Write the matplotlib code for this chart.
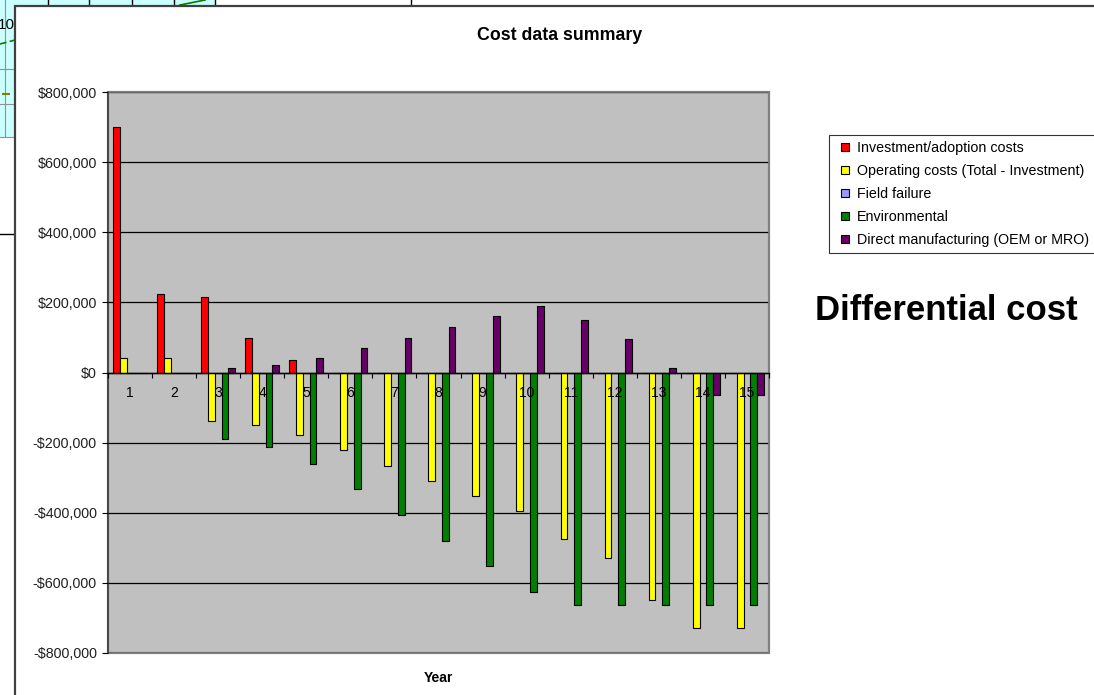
import matplotlib
matplotlib.use("Agg")
import matplotlib.pyplot as plt
from matplotlib.patches import Rectangle
from matplotlib.lines import Line2D
from matplotlib.ticker import FuncFormatter, FixedLocator, NullFormatter

plt.rcParams['font.family'] = ['Liberation Sans', 'DejaVu Sans']

# ---------------- data ----------------
years = [str(i) for i in range(1, 16)]
series_names = ["Investment/adoption costs",
                "Operating costs (Total - Investment)",
                "Field failure",
                "Environmental",
                "Direct manufacturing (OEM or MRO)"]
investment = [700000, 225000, 215000, 97000, 37000, 0, 0, 0, 0, 0, 0, 0, 0, 0, 0]
operating = [40000, 40000, -137000, -150000, -178000, -222000, -267000, -309000,
             -352000, -394000, -476000, -530000, -650000, -729000, -729000]
field_failure = [0, 0, 0, 0, 0, 0, 0, 0, 0, 0, 0, 0, 0, 0, 0]
environmental = [0, 0, -189000, -213000, -261000, -333000, -407000, -480000,
                 -552000, -625000, -663000, -663000, -663000, -663000, -663000]
direct_mfg = [0, 0, 12000, 21000, 40000, 71000, 99000, 131000, 162000, 190000,
              150000, 96000, 14000, -65000, -65000]
y_ticks = [-800000, -600000, -400000, -200000, 0, 200000, 400000, 600000, 800000]

colors = ["#FF0000", "#FFFF00", "#9999FF", "#008000", "#660066"]

W, H = 1094, 695
fig = plt.figure(figsize=(W / 100, H / 100), dpi=100)

# ---------------- background (sheet clutter) ----------------
bg = fig.add_axes([0, 0, 1, 1])
bg.set_xlim(0, W)
bg.set_ylim(H, 0)
bg.axis('off')
bg.add_patch(Rectangle((0, 0), 215, 137, facecolor="#CCFFFF", edgecolor="none"))
for xv in [48, 89, 132, 174]:
    bg.plot([xv, xv], [0, 6], color="black", lw=1)
bg.plot([215, 215], [0, 137], color="black", lw=1)
bg.plot([5, 5], [0, 137], color="#909090", lw=0.8)
for yv in [69, 104]:
    bg.plot([0, 15], [yv, yv], color="#909090", lw=0.8)
bg.plot([0, 215], [137, 137], color="#909090", lw=0.8)
bg.plot([0, 15], [44, 40], color="#008000", lw=1.2, ls=(0, (4, 2)))
bg.plot([180, 205], [5, 0], color="#008000", lw=1.2)
bg.plot([3, 9], [94, 94], color="#808000", lw=1.5)
bg.text(-2, 25, "10", fontsize=11, va="center", ha="left")
bg.plot([0, 15], [234, 234], color="black", lw=1)
bg.plot([411, 411], [0, 6], color="black", lw=1)
bg.add_patch(Rectangle((15, 6), W + 50, H + 50, facecolor="white",
                       edgecolor="#404040", lw=1.6, zorder=5))

# ---------------- chart ----------------
left, right, top, bottom = 108, 769, 92, 653
ax = fig.add_axes([left / W, 1 - bottom / H, (right - left) / W, (bottom - top) / H])
ax.set_facecolor("#C0C0C0")

n = len(years)
x = list(range(1, n + 1))
w = 1 / 6.5
all_series = [investment, operating, field_failure, environmental, direct_mfg]
for yv in y_ticks:
    ax.axhline(yv, color="black", lw=0.9, zorder=1)
for i, (vals, c, name) in enumerate(zip(all_series, colors, series_names)):
    pos = [xi + (i - 2) * w for xi in x]
    ax.bar(pos, vals, width=w, color=c, edgecolor="black", linewidth=0.8,
           label=name, zorder=2)

ax.set_xlim(0.5, n + 0.5)
ax.set_ylim(-800000, 800000)
ax.set_yticks(y_ticks)
ax.yaxis.set_major_formatter(FuncFormatter(
    lambda v, p: ("-$" if v < 0 else "$") + f"{abs(v):,.0f}"))
ax.set_axisbelow(False)

ax.spines['bottom'].set_position(('data', 0))
ax.spines['bottom'].set_color("black")
ax.spines['bottom'].set_linewidth(1.0)
ax.spines['left'].set_color("#404040")
ax.spines['left'].set_linewidth(1.2)
for s in ['top', 'right']:
    ax.spines[s].set_color("#808080")
    ax.spines[s].set_linewidth(1.2)
ax.add_patch(Rectangle((0, 0), 1, 1, transform=ax.transAxes, fill=False,
                       edgecolor="#808080", lw=1.6, zorder=0.5, clip_on=False))

ax.xaxis.set_major_locator(FixedLocator(x))
ax.set_xticklabels(years)
ax.xaxis.set_minor_locator(FixedLocator([xi + 0.5 for xi in range(0, n + 1)]))
ax.xaxis.set_minor_formatter(NullFormatter())
ax.tick_params(axis='x', which='major', length=0, pad=10, labelsize=10)
ax.tick_params(axis='x', which='minor', direction='out', length=3.5, width=0.8)
ax.tick_params(axis='y', which='major', direction='out', length=4, width=0.8,
               pad=4, labelsize=10.3, colors="black")
ax.tick_params(axis='y', labelcolor="#202020")

fig.text(560 / W, 1 - 36 / H, "Cost data summary", fontsize=12.8, fontweight="bold",
         ha="center", va="center")
fig.text(438 / W, 1 - 678 / H, "Year", fontsize=10, fontweight="bold",
         ha="center", va="center")

handles = [Line2D([], [], marker='s', linestyle='none', markersize=6,
                  markerfacecolor=c, markeredgecolor="black", markeredgewidth=0.8)
           for c in colors]
leg = fig.legend(handles, series_names, loc="upper left",
                 bbox_to_anchor=(829 / W, 1 - 135 / H),
                 frameon=True, fancybox=False, shadow=False, fontsize=10.3,
                 handlelength=1.3, handletextpad=0.2,
                 labelspacing=0.62, borderpad=0.45, borderaxespad=0)
leg.get_frame().set_edgecolor("black")
leg.get_frame().set_linewidth(0.8)

fig.text(815 / W, 1 - 311 / H, "Differential cost", fontsize=25, fontweight="bold",
         ha="left", va="center")

fig.savefig("out.png", dpi=100)
